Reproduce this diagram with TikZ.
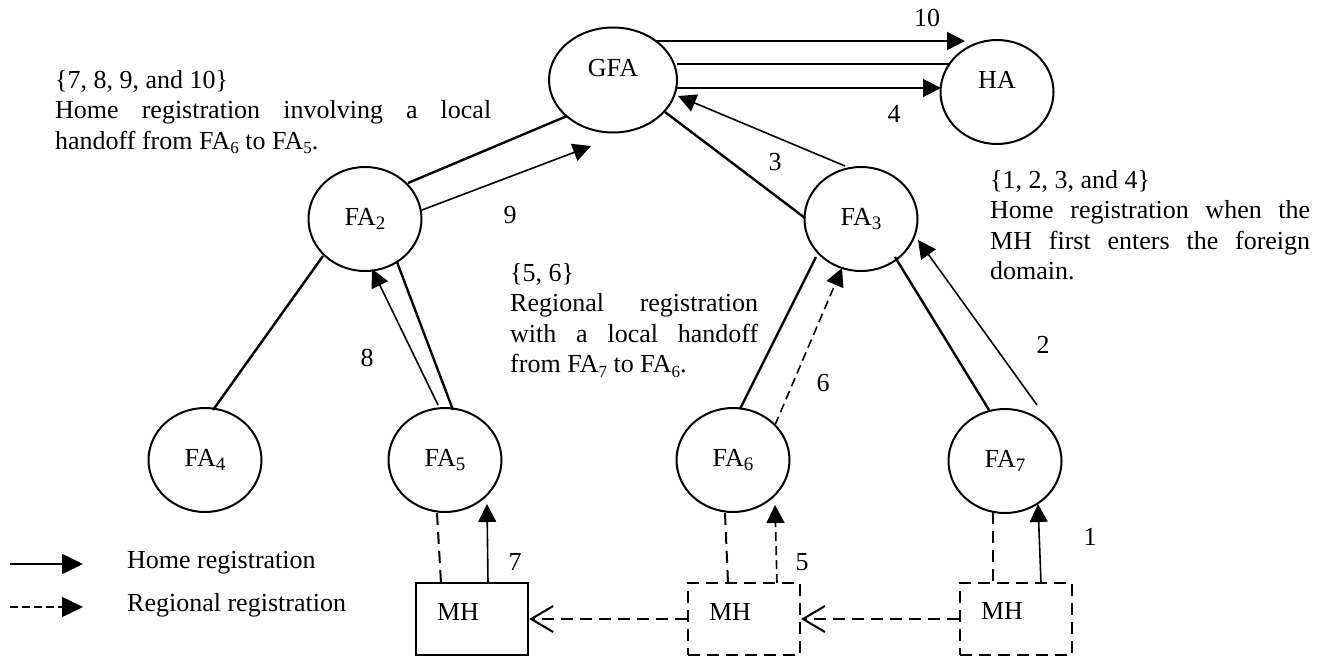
\documentclass[tikz,border=0pt]{standalone}
\usepackage{fontspec}
\setmainfont{Liberation Serif}
\usetikzlibrary{arrows.meta,calc,shapes.geometric}
% lowered subscripts for agent names
\newcommand\nodesub[1]{\raisebox{-4.5pt}{\fontsize{19}{19}\selectfont #1}}
\newcommand\txtsub[1]{\raisebox{-4.5pt}{\fontsize{17}{17}\selectfont #1}}
% paragraph settings for the justified notes
\newcommand\loosepar{\tolerance=10000 \hyphenpenalty=10000 \pretolerance=-1 }
\begin{document}
\begin{tikzpicture}[x=1pt,y=-1pt,
  every node/.style={font=\fontsize{26}{30.5}\selectfont, inner sep=0pt},
  agent/.style={draw, ellipse, line width=2pt, minimum width=113pt, minimum height=104pt},
  mhbox/.style={draw, rectangle, minimum width=112pt, minimum height=72pt},
  note/.style={anchor=north west, align=justify, font=\fontsize{26}{30.5}\selectfont\loosepar},
  tree/.style={line width=2.4pt},
  toparrow/.style={line width=2pt, -{Triangle[length=18pt,width=18pt]}},
  homearrow/.style={line width=1.6pt, -{Triangle[length=18pt,width=18pt]}},
  regarrow/.style={line width=1.6pt, dash pattern=on 9pt off 5pt, -{Triangle[length=18pt,width=18pt]}},
  regline/.style={line width=2pt, dash pattern=on 12pt off 7pt},
  handoff/.style={line width=2pt, dash pattern=on 12pt off 7pt,
    -{Straight Barb[length=22pt,width=26pt,line width=2pt]}},
  keyhome/.style={line width=1.6pt, -{Triangle[length=21pt,width=20pt]}},
  keyreg/.style={line width=1.6pt, dash pattern=on 8pt off 4pt, -{Triangle[length=21pt,width=20pt]}},
]
\useasboundingbox (0,0) rectangle (1325,659);

% agents
\node[agent, minimum width=128pt, minimum height=105pt] (GFA) at (613,80) {};
\node (GFAt) at ($(GFA)+(0,-12)$) {GFA};
\node[agent] (HA) at (997,92) {};
\node (HAt) at ($(HA)+(0,-12)$) {HA};
\node[agent] (FA2) at (365,219) {FA\nodesub{2}};
\node[agent] (FA3) at (861,219) {FA\nodesub{3}};
\node[agent] (FA4) at (205,460) {FA\nodesub{4}};
\node[agent] (FA5) at (445,460) {FA\nodesub{5}};
\node[agent] (FA6) at (733,460) {FA\nodesub{6}};
\node[agent] (FA7) at (1005,461) {FA\nodesub{7}};

% mobile host positions
\node[mhbox, line width=2.4pt] (MH1) at (472,619) {};
\node[mhbox, regline] (MH2) at (744,619) {};
\node[mhbox, regline] (MH3) at (1016,619) {};
\node (MH1t) at ($(MH1)+(-14,-7)$) {MH};
\node (MH2t) at ($(MH2)+(-14,-7)$) {MH};
\node (MH3t) at ($(MH3)+(-14,-8)$) {MH};

% GFA -- HA
\draw[toparrow] ($(GFA)+(42,-39)$) -- ($(HA)+(-32,-51)$);
\draw[tree] ($(GFA)+(64,-16)$) -- ($(HA)+(-47,-28)$);
\draw[toparrow] ($(GFA)+(64,8)$) -- ($(HA)+(-56,-4)$);

% GFA -- FA2, GFA -- FA3
\draw[tree] ($(GFA)+(-46,36)$) -- ($(FA2)+(43,-36)$);
\draw[homearrow] ($(FA2)+(57,-9)$) -- ($(GFA)+(-22,66)$);
\draw[tree] ($(GFA)+(52,32)$) -- ($(FA3)+(-56,-1)$);
\draw[homearrow] ($(FA3)+(-16,-53)$) -- ($(GFA)+(65,16)$);

% FA2 subtree
\draw[tree] ($(FA2)+(-42,37)$) -- ($(FA4)+(8,-50)$);
\draw[tree] ($(FA2)+(32,43)$) -- ($(FA5)+(8,-50)$);
\draw[homearrow] ($(FA5)+(-7,-55)$) -- ($(FA2)+(7,50)$);

% FA3 subtree
\draw[tree] ($(FA3)+(-45,38)$) -- ($(FA6)+(7,-51)$);
\draw[regarrow] ($(FA6)+(42,-35)$) -- ($(FA3)+(-19,49)$);
\draw[tree] ($(FA3)+(34,38)$) -- ($(FA7)+(-16,-51)$);
\draw[homearrow] ($(FA7)+(32,-56)$) -- ($(FA3)+(57,21)$);

% mobile host attachments
\draw[regline] ($(FA5)+(-8,53)$) -- ($(MH1)+(-31,-36)$);
\draw[homearrow] ($(MH1)+(16,-36)$) -- ($(FA5)+(42,44)$);
\draw[regline] ($(FA6)+(-8,53)$) -- ($(MH2)+(-16,-36)$);
\draw[regarrow] ($(MH2)+(33,-36)$) -- ($(FA6)+(42,45)$);
\draw[regline] ($(FA7)+(-12,51)$) -- ($(MH3)+(-23,-36)$);
\draw[homearrow] ($(MH3)+(25,-36)$) -- ($(FA7)+(33,43)$);

% handoffs
\draw[handoff] (MH3.west) -- (MH2.east);
\draw[handoff] (MH2.west) -- (MH1.east);

% message numbers
\node (n10) at (927,18) {10};
\node (n4) at (894,114) {4};
\node (n3) at (775,162) {3};
\node (n9) at (510,215) {9};
\node (n8) at (367,358) {8};
\node (n6) at (823,383) {6};
\node (n2) at (1043,345) {2};
\node (n7) at (515,562) {7};
\node (n5) at (802,562) {5};
\node (n1) at (1090,537) {1};

% notes
\node[note, text width=436pt] (noteA) at (55,70)
  {\{7, 8, 9, and 10\}\\Home registration involving a local\linebreak
   handoff from FA\txtsub{6} to FA\txtsub{5}.};
\node[note, text width=248pt] (noteB) at (510,263)
  {\{5, 6\}\\Regional registration\linebreak with a local handoff\linebreak
   from FA\txtsub{7} to FA\txtsub{6}.};
\node[note, text width=320pt] (noteC) at (990,170)
  {\{1, 2, 3, and 4\}\\Home registration when the\linebreak
   MH first enters the foreign\linebreak domain.};

% legend
\coordinate (k1a) at (10,564);
\coordinate (k1b) at (83,564);
\coordinate (k2a) at (10,607);
\coordinate (k2b) at (83,607);
\draw[keyhome] (k1a) -- (k1b);
\draw[keyreg] (k2a) -- (k2b);
\node[anchor=base west] (k1t) at (127,568) {Home registration};
\node[anchor=base west] (k2t) at (127,611) {Regional registration};
\end{tikzpicture}
\end{document}
